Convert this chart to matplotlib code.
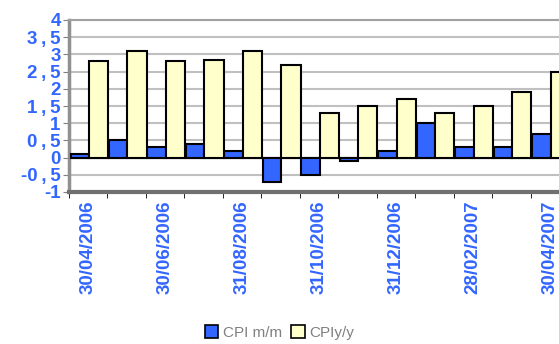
import matplotlib.pyplot as plt
from matplotlib.patches import Patch

plt.rcParams['font.family'] = ['Liberation Sans', 'DejaVu Sans']

# monthly CPI data
dates = ['30/04/2006', '31/05/2006', '30/06/2006', '31/07/2006', '31/08/2006',
         '30/09/2006', '31/10/2006', '30/11/2006', '31/12/2006', '31/01/2007',
         '28/02/2007', '31/03/2007', '30/04/2007']
cpi_mm = [0.1, 0.5, 0.3, 0.4, 0.2, -0.7, -0.5, -0.1, 0.2, 1.0, 0.3, 0.3, 0.7]
cpi_yy = [2.8, 3.1, 2.8, 2.85, 3.1, 2.7, 1.3, 1.5, 1.7, 1.3, 1.5, 1.9, 2.5]
ytick_vals = [-1, -0.5, 0, 0.5, 1, 1.5, 2, 2.5, 3, 3.5, 4]

blue = '#3366ff'
cream = '#ffffcc'

fig = plt.figure(figsize=(5.59, 3.44), dpi=100)
# plot runs off the right edge like the original
ax = fig.add_axes([69 / 559, 152 / 344, 500 / 559, 172 / 344])

x = list(range(len(dates)))
ax.bar([i - 0.46 for i in x], cpi_mm, width=0.48, align='edge',
       color=blue, edgecolor='black', linewidth=1.5, zorder=3)
ax.bar([i + 0.02 for i in x], cpi_yy, width=0.5, align='edge',
       color=cream, edgecolor='black', linewidth=1.5, zorder=3)

ax.set_xlim(-0.5, len(dates) - 0.5)
ax.set_ylim(-1, 4)

# gridlines on the back wall
for v in ytick_vals:
    ax.axhline(v, color='#c0c0c0', linewidth=1.5, zorder=1)
ax.axhline(0, color='black', linewidth=1.5, zorder=2)

ax.set_yticks(ytick_vals)
ax.set_yticklabels([('%g' % v).replace('.', '\u2009,\u2009') for v in ytick_vals],
                   color=blue, fontweight='bold', fontsize=13.5)
ax.tick_params(axis='y', length=4, color='gray', pad=2)

ax.set_xticks(x[::2])
ax.set_xticklabels(dates[::2], rotation=90, color=blue, fontweight='bold',
                   fontsize=13.5)
ax.set_xticks([i - 0.5 for i in x], minor=True)
ax.tick_params(axis='x', which='major', length=0, pad=6)
ax.tick_params(axis='x', which='minor', length=4, color='black')

ax.spines['right'].set_visible(False)
ax.spines['top'].set_color('#a0a0a0')
ax.spines['top'].set_linewidth(1.5)
ax.spines['left'].set_color('#909090')
ax.spines['left'].set_linewidth(2.5)
ax.spines['bottom'].set_color('#707070')
ax.spines['bottom'].set_linewidth(3)

handles = [Patch(facecolor=blue, edgecolor='black', linewidth=1.2),
           Patch(facecolor=cream, edgecolor='black', linewidth=1.2)]
fig.legend(handles, ['CPI m/m', 'CPIy/y'], loc='lower center',
           bbox_to_anchor=(0.5, -0.028), ncol=2, frameon=False,
           handlelength=0.9, handleheight=0.9, handletextpad=0.3,
           columnspacing=0.6, labelcolor='#808080', fontsize=11)

plt.savefig('out.png')
